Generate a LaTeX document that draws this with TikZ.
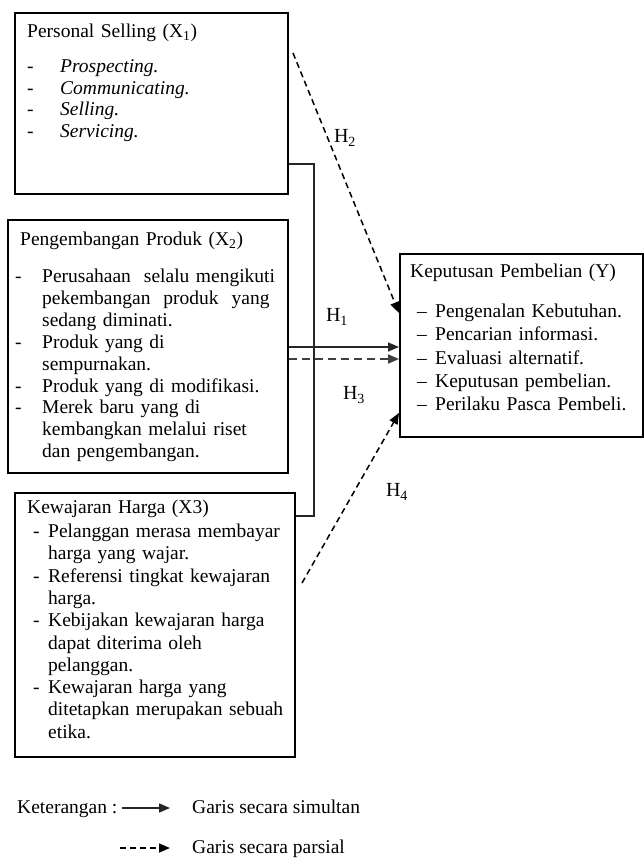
\documentclass[tikz,border=0pt]{standalone}
\usepackage{fontspec}
\setmainfont{Liberation Serif}
\usetikzlibrary{arrows.meta}
\newcommand{\dsh}[1]{\makebox[#1][l]{-}}
\begin{document}
\begin{tikzpicture}[x=1pt,y=-1pt,
  box/.style={draw, line width=1.8pt, inner sep=0pt, anchor=north west},
  txt/.style={anchor=base west, inner sep=0pt, align=left},
  conn/.style={line width=1.5pt, draw=black!85},
  dconn/.style={line width=1.5pt, dash pattern=on 6pt off 4pt},
  hd/.style={-{Triangle[length=11pt,width=9pt]}},
  hlab/.style={inner sep=0pt, font=\fontsize{20}{22}\selectfont}]
\useasboundingbox (0,0) rectangle (644,865);
% boxes
\node[box, minimum width=273pt, minimum height=181pt] (x1) at (14,12) {};
\node[box, minimum width=280pt, minimum height=253pt] (x2) at (7,219) {};
\node[box, minimum width=280pt, minimum height=264pt] (x3) at (14,492) {};
\node[box, minimum width=243pt, minimum height=183pt] (y) at (399,253) {};
% texts
\node[txt, text width=250pt, font=\fontsize{19.5}{21.7}\selectfont] (x1t) at (27,37.5)
 {Personal Selling (X\textsubscript{1})\\[13.3pt]
  \dsh{33pt}\textit{Prospecting.}\\
  \dsh{33pt}\textit{Communicating.}\\
  \dsh{33pt}\textit{Selling.}\\
  \dsh{33pt}\textit{Servicing.}};
\node[txt, text width=265pt, font=\fontsize{19.5}{21.9}\selectfont] (x2t) at (15,245.5)
 {\hspace*{5pt}Pengembangan Produk (X\textsubscript{2})\\[15.1pt]
  \dsh{27pt}\makebox[231pt][s]{Perusahaan\ \ selalu mengikuti}\\
  \hspace*{27pt}\makebox[231pt][s]{pekembangan\ \ produk\ \ yang}\\
  \hspace*{27pt}sedang diminati.\\
  \dsh{27pt}Produk yang di\\
  \hspace*{27pt}sempurnakan.\\
  \dsh{27pt}Produk yang di modifikasi.\\
  \dsh{27pt}Merek baru yang di\\
  \hspace*{27pt}kembangkan melalui riset\\
  \hspace*{27pt}dan pengembangan.};
\node[txt, text width=265pt, font=\fontsize{19.5}{22.3}\selectfont] (x3t) at (27,513.5)
 {Kewajaran Harga (X3)\\[1.7pt]
  \hspace*{6pt}\dsh{15pt}Pelanggan merasa membayar\\
  \hspace*{21pt}harga yang wajar.\\
  \hspace*{6pt}\dsh{15pt}Referensi tingkat kewajaran\\
  \hspace*{21pt}harga.\\
  \hspace*{6pt}\dsh{15pt}Kebijakan kewajaran harga\\
  \hspace*{21pt}dapat diterima oleh\\
  \hspace*{21pt}pelanggan.\\
  \hspace*{6pt}\dsh{15pt}Kewajaran harga yang\\
  \hspace*{21pt}ditetapkan merupakan sebuah\\
  \hspace*{21pt}etika.};
\node[txt, text width=230pt, font=\fontsize{19.5}{23.25}\selectfont] (yt) at (410,277.5)
 {Keputusan Pembelian (Y)\\[16.75pt]
  \hspace*{7pt}\makebox[18pt][l]{--}Pengenalan Kebutuhan.\\
  \hspace*{7pt}\makebox[18pt][l]{--}Pencarian informasi.\\
  \hspace*{7pt}\makebox[18pt][l]{--}Evaluasi alternatif.\\
  \hspace*{7pt}\makebox[18pt][l]{--}Keputusan pembelian.\\
  \hspace*{7pt}\makebox[18pt][l]{--}Perilaku Pasca Pembeli.};
% connectors
\coordinate (c1) at (314,164);
\coordinate (c2) at (314,516);
\draw[conn] (x1.east |- c1) -- (c1) -- (c2) -- (x3.east |- c2);
\coordinate (a1) at (0,347);
\coordinate (a2) at (0,359);
\draw[conn, hd] (x2.east |- a1) -- (y.west |- a1);
\draw[dconn, hd, draw=black!75, line width=2pt, dash pattern=on 8pt off 5pt] (x2.east |- a2) -- (y.west |- a2);
\coordinate (s2) at (293,53);
\coordinate (t2) at (398,313);
\draw[dconn, hd] (s2) -- (y.west |- t2);
\coordinate (s4) at (302,583);
\coordinate (t4) at (398,413);
\draw[dconn, hd] (s4) -- (y.west |- t4);
% labels
\node[hlab] (h2) at (345,138) {H\textsubscript{2}};
\node[hlab] (h1) at (337,317) {H\textsubscript{1}};
\node[hlab] (h3) at (354,395) {H\textsubscript{3}};
\node[hlab] (h4) at (397,492) {H\textsubscript{4}};
% legend
\node[txt, font=\fontsize{19.5}{22}\selectfont] (ket) at (17,813) {Keterangan :};
\coordinate (l1a) at (122,808);
\coordinate (l1b) at (170,808);
\draw[conn, hd] (l1a) -- (l1b);
\node[txt, font=\fontsize{19.5}{22}\selectfont] (sim) at (192,813) {Garis secara simultan};
\coordinate (l2a) at (120,848);
\coordinate (l2b) at (170,848);
\draw[dconn, hd] (l2a) -- (l2b);
\node[txt, font=\fontsize{19.5}{22}\selectfont] (par) at (192,853) {Garis secara parsial};
\end{tikzpicture}
\end{document}
